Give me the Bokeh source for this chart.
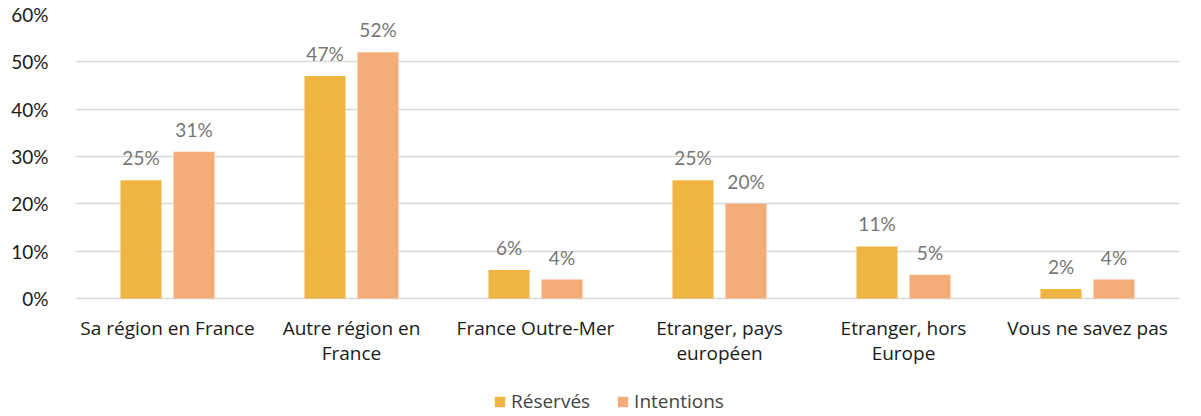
from bokeh.plotting import figure
from bokeh.models import ColumnDataSource, FactorRange, Legend, LegendItem, FixedTicker, CustomJSTickFormatter
from bokeh.transform import dodge
from bokeh.core.properties import value
from bokeh.embed import file_html
from bokeh.resources import INLINE

categories = ["Sa région en France", "Autre région en\nFrance", "France Outre-Mer",
              "Etranger, pays\neuropéen", "Etranger, hors\nEurope", "Vous ne savez pas"]
reserves = [25, 47, 6, 25, 11, 2]
intentions = [31, 52, 4, 20, 5, 4]
y_ticks = [0, 10, 20, 30, 40, 50, 60]

FONT = "Open Sans"
NUMFONT = "Lato"
C1 = "#F0B443"
C2 = "#F4AD79"

src = ColumnDataSource(dict(
    cat=categories, r=reserves, i=intentions, zero=[0] * len(categories),
    rl=[f"{v}%" for v in reserves], il=[f"{v}%" for v in intentions],
))

p = figure(x_range=FactorRange(*categories), y_range=(-24.5, 60),
           frame_width=1104, frame_height=400, output_backend="svg", toolbar_location=None,
           min_border_left=75, min_border_right=14, min_border_top=14, min_border_bottom=0)
p.outline_line_color = None
p.background_fill_color = "white"
p.xaxis.visible = False

r1 = p.vbar(x=dodge("cat", -0.144, range=p.x_range), top="r", width=0.223, source=src,
            fill_color=C1, line_color=None)
r2 = p.vbar(x=dodge("cat", 0.144, range=p.x_range), top="i", width=0.223, source=src,
            fill_color=C2, line_color=None)

for off, col, lab in [(-0.144, "r", "rl"), (0.144, "i", "il")]:
    p.text(x=dodge("cat", off, range=p.x_range), y=col, text=lab, source=src,
           text_align="center", text_baseline="bottom", y_offset=-11,
           text_font=value(NUMFONT), text_font_size="19px", text_color="#767676")

# category labels under the bars
p.text(x="cat", y="zero", text="cat", source=src, text_align="center", text_baseline="top",
       y_offset=16, text_line_height=0.97,
       text_font=value(FONT), text_font_size="19px", text_color="#1a1a1a")

p.xgrid.grid_line_color = None
p.ygrid.grid_line_color = "#d9d9d9"
p.ygrid.grid_line_width = 1.3
p.yaxis.ticker = FixedTicker(ticks=y_ticks)
p.yaxis.formatter = CustomJSTickFormatter(code="return tick + '%';")
p.yaxis.axis_line_color = None
p.yaxis.major_tick_line_color = None
p.yaxis.minor_tick_line_color = None
p.yaxis.major_label_text_font = NUMFONT
p.yaxis.major_label_text_font_size = "19px"
p.yaxis.major_label_text_color = "#1a1a1a"
p.yaxis.major_label_standoff = 21

legend = Legend(items=[LegendItem(label="Réservés", renderers=[r1]),
                       LegendItem(label="Intentions", renderers=[r2])],
                orientation="horizontal", location=(418, 0),
                label_text_font=FONT, label_text_font_size="19px",
                glyph_width=13, glyph_height=13, spacing=26, label_standoff=5,
                border_line_color=None, background_fill_alpha=0, padding=0, margin=0)
p.add_layout(legend)

open("out.html", "w").write(file_html(p, INLINE))
